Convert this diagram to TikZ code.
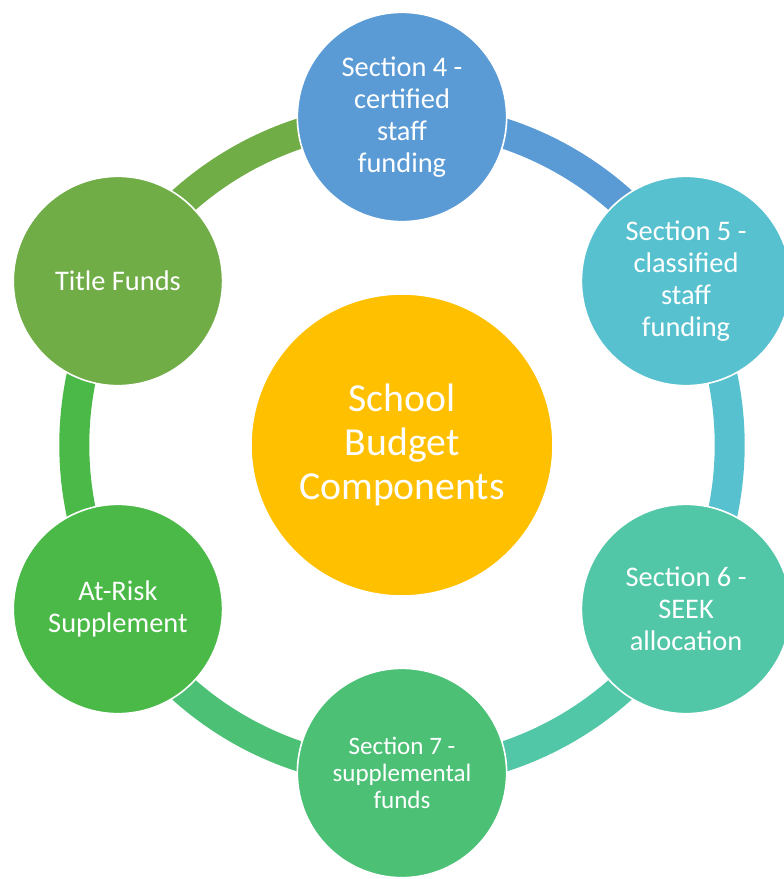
\documentclass[tikz,border=0pt]{standalone}
\usepackage{fontspec}
\setmainfont{Carlito}
\usetikzlibrary{backgrounds}
\definecolor{hubyellow}{HTML}{FFC000}
\definecolor{secfour}{HTML}{5B9BD5}
\definecolor{secfive}{HTML}{57C1CF}
\definecolor{secsix}{HTML}{51C7A7}
\definecolor{secseven}{HTML}{4CC176}
\definecolor{atrisk}{HTML}{4AB947}
\definecolor{title}{HTML}{70AD47}
\tikzset{every picture/.style={line width=0.75pt}}

\begin{document}
\begin{tikzpicture}[x=0.75pt,y=0.75pt,
    part/.style={circle, draw=white, line width=1.2pt, minimum size=157pt, inner sep=0pt,
      text=white, align=center, font=\fontsize{21.3}{24}\selectfont},
    hub/.style={part, minimum size=226.5pt, font=\fontsize{29.8}{33}\selectfont},
    ring/.style={line width=22.5pt, bend left=30, looseness=0.91}]
  \useasboundingbox (-402,-434) rectangle (382,445);
  % centre
  \node[hub, fill=hubyellow] (hub) at (0,0) {School\\Budget\\Components};
  % components round the ring
  \node[part, fill=secfour] (sec4) at (90:328) {Section 4 -\\certified\\staff\\funding};
  \node[part, fill=secfive] (sec5) at (30:328) {Section 5 -\\classified\\staff\\funding};
  \node[part, fill=secsix] (sec6) at (-30:328) {Section 6 -\\SEEK\\allocation};
  \node[part, fill=secseven, font=\fontsize{18.8}{20}\selectfont] (sec7) at (-90:328) {Section 7 -\\supplemental\\funds};
  \node[part, fill=atrisk] (risk) at (-150:328) {At-Risk\\Supplement};
  \node[part, fill=title] (titlef) at (150:328) {Title Funds};
  % ring
  \begin{scope}[on background layer]
    \draw[ring, title] (titlef.center) to (sec4.center);
    \draw[ring, secfour] (sec4.center) to (sec5.center);
    \draw[ring, secfive] (sec5.center) to (sec6.center);
    \draw[ring, secsix] (sec6.center) to (sec7.center);
    \draw[ring, secseven] (sec7.center) to (risk.center);
    \draw[ring, atrisk] (risk.center) to (titlef.center);
  \end{scope}
\end{tikzpicture}
\end{document}
